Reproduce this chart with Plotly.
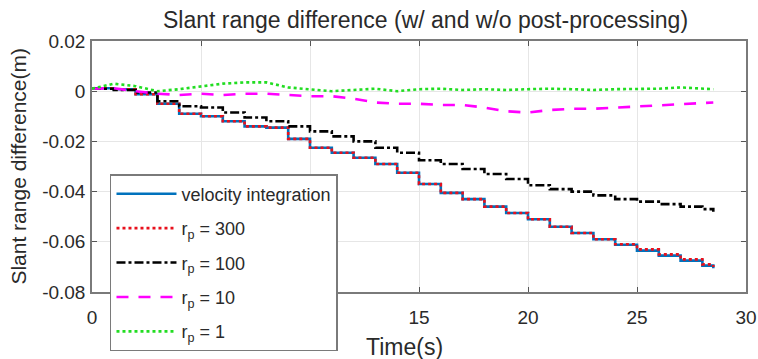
import plotly.graph_objects as go

# time stamps (s)
t = [0, 1, 2, 3, 4, 5, 6, 7, 8, 9, 10, 11, 12, 13, 14, 15, 16, 17, 18, 19,
     20, 21, 22, 23, 24, 25, 26, 27, 28, 28.5]

vel_int = [0.0012, 0.0008, -0.0012, -0.005, -0.009, -0.010, -0.012, -0.014, -0.0145, -0.019,
           -0.0225, -0.0245, -0.0265, -0.029, -0.0325, -0.037, -0.0405, -0.043, -0.046, -0.0485,
           -0.051, -0.054, -0.0565, -0.059, -0.0612, -0.0635, -0.0655, -0.0675, -0.0695, -0.0705]
rp300 = [0.0012, 0.0008, -0.0012, -0.005, -0.009, -0.010, -0.012, -0.014, -0.0145, -0.019,
         -0.0225, -0.0245, -0.0265, -0.029, -0.0325, -0.037, -0.0405, -0.043, -0.046, -0.0485,
         -0.051, -0.054, -0.0565, -0.059, -0.061, -0.063, -0.065, -0.067, -0.069, -0.070]
rp100 = [0.001, 0.0005, -0.0005, -0.004, -0.006, -0.0065, -0.0085, -0.0105, -0.012, -0.014,
         -0.016, -0.018, -0.020, -0.0225, -0.0245, -0.0275, -0.029, -0.031, -0.033, -0.035,
         -0.0375, -0.039, -0.040, -0.0415, -0.043, -0.044, -0.045, -0.046, -0.047, -0.048]
rp10 = [0.001, 0.0012, 0.0, -0.001, -0.0015, -0.001, -0.0015, -0.001, -0.001, -0.0015,
        -0.002, -0.002, -0.003, -0.0045, -0.005, -0.005, -0.0055, -0.0055, -0.0065, -0.008,
        -0.0085, -0.0075, -0.007, -0.007, -0.0065, -0.006, -0.0055, -0.005, -0.0045, -0.0045]
rp1 = [0.001, 0.003, 0.002, 0.0, 0.0008, 0.002, 0.003, 0.0035, 0.0035, 0.0015,
       0.0008, 0.0, 0.0005, 0.001, 0.0, 0.0008, 0.001, 0.0005, 0.0008, 0.0005,
       0.0008, 0.001, 0.0008, 0.0005, 0.0008, 0.0008, 0.001, 0.0015, 0.0012, 0.0008]

names = ["velocity integration", "r<sub>p</sub> = 300", "r<sub>p</sub> = 100",
         "r<sub>p</sub> = 10", "r<sub>p</sub> = 1"]

FONT = "Arial, Liberation Sans, Helvetica, sans-serif"
TXT = "#2a2a2a"

fig = go.Figure()
styles = [
    (vel_int, "#0072BD", "solid", "hv"),
    (rp300, "#E8101C", "dot", "hv"),
    (rp100, "#000000", "dashdot", "hv"),
    (rp10, "#FF00FF", "12px,10px", "linear"),
    (rp1, "#22DD22", "dot", "linear"),
]
for i, ((y, c, d, shp), nm) in enumerate(zip(styles, names)):
    fig.add_trace(go.Scatter(x=t, y=y, mode="lines", name=nm, legendgroup=str(i),
                             line=dict(color=c, width=2.6, dash=d, shape=shp)))

axis_common = dict(showline=True, linecolor="#7a7a7a", linewidth=1.5, mirror="allticks",
                   ticks="inside", ticklen=5, tickcolor="#555555", automargin=False,
                   showgrid=True, gridcolor="#e6e6e6", gridwidth=1, zeroline=False,
                   tickfont=dict(family=FONT, size=19, color=TXT))

fig.update_xaxes(range=[0, 30], tickvals=[0, 5, 10, 15, 20, 25, 30], ticklabelstandoff=7,
                 **axis_common)
fig.update_yaxes(range=[-0.08, 0.02], tickvals=[-0.08, -0.06, -0.04, -0.02, 0, 0.02],
                 ticktext=["-0.08", "-0.06", "-0.04", "-0.02", "0", "0.02"],
                 ticklabelstandoff=1,
                 **axis_common)

fig.update_layout(
    width=758, height=359,
    margin=dict(l=92, r=12, t=41, b=67, autoexpand=False),
    paper_bgcolor="white", plot_bgcolor="white",
    title=dict(text="Slant range difference (w/ and w/o post-processing)",
               x=0.51, xref="paper", y=0.968, yanchor="top",
               font=dict(family=FONT, size=23, color=TXT)),
    legend=dict(x=0.0275, y=0.47, xanchor="left", yanchor="top",
                bgcolor="white", bordercolor="#7a7a7a", borderwidth=1.5,
                font=dict(family=FONT, size=18, color=TXT),
                itemwidth=60, tracegroupgap=8, traceorder="grouped"),
    showlegend=True,
    annotations=[
        dict(text="Slant range difference(m)", textangle=-90,
             xref="paper", yref="paper", x=-0.113, y=0.5,
             xanchor="center", yanchor="middle", showarrow=False,
             font=dict(family=FONT, size=21, color=TXT)),
        dict(text="Time(s)", xref="paper", yref="paper", x=0.478, y=-0.22,
             xanchor="center", yanchor="middle", showarrow=False,
             font=dict(family=FONT, size=23, color=TXT)),
    ],
)

fig.write_html("out.html")
